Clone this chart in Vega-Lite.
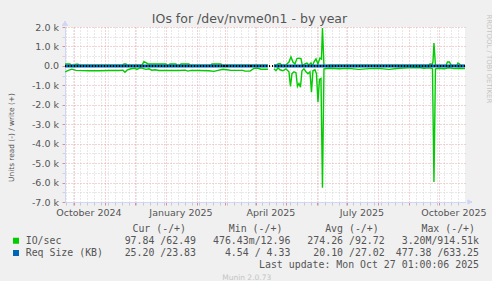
{
  "$schema": "https://vega.github.io/schema/vega-lite/v6.json",
  "background": "#F0F0F0",
  "padding": {"left": 7, "top": 12, "right": 0, "bottom": 0},
  "title": {"text": "IOs for /dev/nvme0n1 - by year", "font": "DejaVu Sans", "fontSize": 12.5, "fontWeight": "normal", "color": "#555555", "anchor": "middle", "frame": "bounds", "offset": -11},
  "config": {
    "font": "DejaVu Sans",
    "view": {"stroke": null},
    "axis": {"labelFont": "DejaVu Sans", "titleFont": "DejaVu Sans"}
  },
  "spacing": 6.5,
  "datasets": {
    "io": [
      {"t":"2024-09-22T01:00","m":"IO/sec","dir":"read","seg":1,"v":-310},
      {"t":"2024-09-26T00:00","m":"IO/sec","dir":"read","seg":1,"v":-220},
      {"t":"2024-09-29T00:00","m":"IO/sec","dir":"read","seg":1,"v":-170},
      {"t":"2024-10-03T00:00","m":"IO/sec","dir":"read","seg":1,"v":-230},
      {"t":"2024-10-16T00:00","m":"IO/sec","dir":"read","seg":1,"v":-250},
      {"t":"2024-10-26T00:00","m":"IO/sec","dir":"read","seg":1,"v":-250},
      {"t":"2024-11-05T00:00","m":"IO/sec","dir":"read","seg":1,"v":-240},
      {"t":"2024-11-15T00:00","m":"IO/sec","dir":"read","seg":1,"v":-240},
      {"t":"2024-11-19T00:00","m":"IO/sec","dir":"read","seg":1,"v":-220},
      {"t":"2024-11-21T00:00","m":"IO/sec","dir":"read","seg":1,"v":-330},
      {"t":"2024-11-23T00:00","m":"IO/sec","dir":"read","seg":1,"v":-220},
      {"t":"2024-11-27T00:00","m":"IO/sec","dir":"read","seg":1,"v":-150},
      {"t":"2024-12-01T00:00","m":"IO/sec","dir":"read","seg":1,"v":-120},
      {"t":"2024-12-03T00:00","m":"IO/sec","dir":"read","seg":1,"v":-180},
      {"t":"2024-12-06T00:00","m":"IO/sec","dir":"read","seg":1,"v":-100},
      {"t":"2024-12-09T00:00","m":"IO/sec","dir":"read","seg":1,"v":-130},
      {"t":"2024-12-12T00:00","m":"IO/sec","dir":"read","seg":1,"v":-180},
      {"t":"2024-12-15T00:00","m":"IO/sec","dir":"read","seg":1,"v":-150},
      {"t":"2024-12-18T00:00","m":"IO/sec","dir":"read","seg":1,"v":-220},
      {"t":"2024-12-21T00:00","m":"IO/sec","dir":"read","seg":1,"v":-200},
      {"t":"2024-12-25T00:00","m":"IO/sec","dir":"read","seg":1,"v":-240},
      {"t":"2025-01-04T00:00","m":"IO/sec","dir":"read","seg":1,"v":-240},
      {"t":"2025-01-14T00:00","m":"IO/sec","dir":"read","seg":1,"v":-240},
      {"t":"2025-01-20T00:00","m":"IO/sec","dir":"read","seg":1,"v":-220},
      {"t":"2025-01-23T00:00","m":"IO/sec","dir":"read","seg":1,"v":-270},
      {"t":"2025-01-26T00:00","m":"IO/sec","dir":"read","seg":1,"v":-230},
      {"t":"2025-02-03T00:00","m":"IO/sec","dir":"read","seg":1,"v":-240},
      {"t":"2025-02-13T00:00","m":"IO/sec","dir":"read","seg":1,"v":-250},
      {"t":"2025-02-18T00:00","m":"IO/sec","dir":"read","seg":1,"v":-280},
      {"t":"2025-02-21T00:00","m":"IO/sec","dir":"read","seg":1,"v":-240},
      {"t":"2025-02-27T00:00","m":"IO/sec","dir":"read","seg":1,"v":-170},
      {"t":"2025-03-03T00:00","m":"IO/sec","dir":"read","seg":1,"v":-200},
      {"t":"2025-03-07T00:00","m":"IO/sec","dir":"read","seg":1,"v":-230},
      {"t":"2025-03-19T00:00","m":"IO/sec","dir":"read","seg":1,"v":-230},
      {"t":"2025-03-21T00:00","m":"IO/sec","dir":"read","seg":1,"v":-270},
      {"t":"2025-03-26T00:00","m":"IO/sec","dir":"read","seg":1,"v":-270},
      {"t":"2025-03-30T00:00","m":"IO/sec","dir":"read","seg":1,"v":-130},
      {"t":"2025-04-03T00:00","m":"IO/sec","dir":"read","seg":1,"v":-120},
      {"t":"2025-04-06T00:00","m":"IO/sec","dir":"read","seg":1,"v":-170},
      {"t":"2025-04-13T00:00","m":"IO/sec","dir":"read","seg":1,"v":-170},
      {"t":"2025-04-19T00:00","m":"IO/sec","dir":"read","seg":2,"v":-150},
      {"t":"2025-04-21T00:00","m":"IO/sec","dir":"read","seg":2,"v":-250},
      {"t":"2025-04-23T00:00","m":"IO/sec","dir":"read","seg":2,"v":-100},
      {"t":"2025-04-25T00:00","m":"IO/sec","dir":"read","seg":2,"v":-200},
      {"t":"2025-04-28T00:00","m":"IO/sec","dir":"read","seg":2,"v":-250},
      {"t":"2025-05-01T00:00","m":"IO/sec","dir":"read","seg":2,"v":-150},
      {"t":"2025-05-04T00:00","m":"IO/sec","dir":"read","seg":2,"v":-300},
      {"t":"2025-05-05T12:00","m":"IO/sec","dir":"read","seg":2,"v":-1050},
      {"t":"2025-05-07T00:00","m":"IO/sec","dir":"read","seg":2,"v":-400},
      {"t":"2025-05-09T00:00","m":"IO/sec","dir":"read","seg":2,"v":-300},
      {"t":"2025-05-11T00:00","m":"IO/sec","dir":"read","seg":2,"v":-350},
      {"t":"2025-05-12T12:00","m":"IO/sec","dir":"read","seg":2,"v":-1050},
      {"t":"2025-05-14T00:00","m":"IO/sec","dir":"read","seg":2,"v":-900},
      {"t":"2025-05-15T12:00","m":"IO/sec","dir":"read","seg":2,"v":-1100},
      {"t":"2025-05-17T00:00","m":"IO/sec","dir":"read","seg":2,"v":-250},
      {"t":"2025-05-19T00:00","m":"IO/sec","dir":"read","seg":2,"v":-150},
      {"t":"2025-05-21T00:00","m":"IO/sec","dir":"read","seg":2,"v":-300},
      {"t":"2025-05-23T00:00","m":"IO/sec","dir":"read","seg":2,"v":-400},
      {"t":"2025-05-25T00:00","m":"IO/sec","dir":"read","seg":2,"v":-300},
      {"t":"2025-05-26T12:00","m":"IO/sec","dir":"read","seg":2,"v":-1350},
      {"t":"2025-05-28T00:00","m":"IO/sec","dir":"read","seg":2,"v":-250},
      {"t":"2025-05-30T00:00","m":"IO/sec","dir":"read","seg":2,"v":-200},
      {"t":"2025-05-31T12:00","m":"IO/sec","dir":"read","seg":2,"v":-400},
      {"t":"2025-06-02T00:00","m":"IO/sec","dir":"read","seg":2,"v":-1850},
      {"t":"2025-06-03T12:00","m":"IO/sec","dir":"read","seg":2,"v":-700},
      {"t":"2025-06-05T00:00","m":"IO/sec","dir":"read","seg":2,"v":-650},
      {"t":"2025-06-06T12:00","m":"IO/sec","dir":"read","seg":2,"v":-6270},
      {"t":"2025-06-08T00:00","m":"IO/sec","dir":"read","seg":2,"v":-150},
      {"t":"2025-06-13T00:00","m":"IO/sec","dir":"read","seg":2,"v":-120},
      {"t":"2025-06-23T00:00","m":"IO/sec","dir":"read","seg":2,"v":-150},
      {"t":"2025-07-03T00:00","m":"IO/sec","dir":"read","seg":2,"v":-130},
      {"t":"2025-07-13T00:00","m":"IO/sec","dir":"read","seg":2,"v":-180},
      {"t":"2025-07-23T00:00","m":"IO/sec","dir":"read","seg":2,"v":-140},
      {"t":"2025-08-02T00:00","m":"IO/sec","dir":"read","seg":2,"v":-130},
      {"t":"2025-08-12T00:00","m":"IO/sec","dir":"read","seg":2,"v":-180},
      {"t":"2025-08-22T00:00","m":"IO/sec","dir":"read","seg":2,"v":-120},
      {"t":"2025-09-01T00:00","m":"IO/sec","dir":"read","seg":2,"v":-100},
      {"t":"2025-09-11T00:00","m":"IO/sec","dir":"read","seg":2,"v":-80},
      {"t":"2025-09-16T00:00","m":"IO/sec","dir":"read","seg":2,"v":-120},
      {"t":"2025-09-21T00:00","m":"IO/sec","dir":"read","seg":2,"v":-100},
      {"t":"2025-09-24T12:00","m":"IO/sec","dir":"read","seg":2,"v":-140},
      {"t":"2025-09-26T00:00","m":"IO/sec","dir":"read","seg":2,"v":-5970},
      {"t":"2025-09-27T12:00","m":"IO/sec","dir":"read","seg":2,"v":-150},
      {"t":"2025-10-01T00:00","m":"IO/sec","dir":"read","seg":2,"v":-120},
      {"t":"2025-10-06T00:00","m":"IO/sec","dir":"read","seg":2,"v":-150},
      {"t":"2025-10-11T00:00","m":"IO/sec","dir":"read","seg":2,"v":-100},
      {"t":"2025-10-16T00:00","m":"IO/sec","dir":"read","seg":2,"v":-140},
      {"t":"2025-10-21T00:00","m":"IO/sec","dir":"read","seg":2,"v":-120},
      {"t":"2025-10-27T01:00","m":"IO/sec","dir":"read","seg":2,"v":-140},

      {"t":"2024-09-22T01:00","m":"IO/sec","dir":"write","seg":1,"v":100},
      {"t":"2024-09-27T00:00","m":"IO/sec","dir":"write","seg":1,"v":100},
      {"t":"2024-09-28T00:00","m":"IO/sec","dir":"write","seg":1,"v":40},
      {"t":"2024-10-02T00:00","m":"IO/sec","dir":"write","seg":1,"v":40},
      {"t":"2024-10-03T00:00","m":"IO/sec","dir":"write","seg":1,"v":90},
      {"t":"2024-10-05T00:00","m":"IO/sec","dir":"write","seg":1,"v":90},
      {"t":"2024-10-06T00:00","m":"IO/sec","dir":"write","seg":1,"v":40},
      {"t":"2024-11-19T00:00","m":"IO/sec","dir":"write","seg":1,"v":40},
      {"t":"2024-11-20T00:00","m":"IO/sec","dir":"write","seg":1,"v":100},
      {"t":"2024-11-22T00:00","m":"IO/sec","dir":"write","seg":1,"v":100},
      {"t":"2024-11-23T00:00","m":"IO/sec","dir":"write","seg":1,"v":40},
      {"t":"2024-12-08T00:00","m":"IO/sec","dir":"write","seg":1,"v":40},
      {"t":"2024-12-10T00:00","m":"IO/sec","dir":"write","seg":1,"v":220},
      {"t":"2024-12-12T00:00","m":"IO/sec","dir":"write","seg":1,"v":170},
      {"t":"2024-12-14T00:00","m":"IO/sec","dir":"write","seg":1,"v":100},
      {"t":"2025-01-01T00:00","m":"IO/sec","dir":"write","seg":1,"v":100},
      {"t":"2025-01-02T00:00","m":"IO/sec","dir":"write","seg":1,"v":40},
      {"t":"2025-01-04T00:00","m":"IO/sec","dir":"write","seg":1,"v":40},
      {"t":"2025-01-05T00:00","m":"IO/sec","dir":"write","seg":1,"v":100},
      {"t":"2025-01-11T00:00","m":"IO/sec","dir":"write","seg":1,"v":100},
      {"t":"2025-01-12T00:00","m":"IO/sec","dir":"write","seg":1,"v":40},
      {"t":"2025-01-15T00:00","m":"IO/sec","dir":"write","seg":1,"v":40},
      {"t":"2025-01-16T00:00","m":"IO/sec","dir":"write","seg":1,"v":100},
      {"t":"2025-01-24T00:00","m":"IO/sec","dir":"write","seg":1,"v":100},
      {"t":"2025-01-25T00:00","m":"IO/sec","dir":"write","seg":1,"v":40},
      {"t":"2025-02-15T00:00","m":"IO/sec","dir":"write","seg":1,"v":40},
      {"t":"2025-02-16T00:00","m":"IO/sec","dir":"write","seg":1,"v":100},
      {"t":"2025-02-25T00:00","m":"IO/sec","dir":"write","seg":1,"v":100},
      {"t":"2025-02-26T00:00","m":"IO/sec","dir":"write","seg":1,"v":40},
      {"t":"2025-04-13T00:00","m":"IO/sec","dir":"write","seg":1,"v":40},
      {"t":"2025-04-19T00:00","m":"IO/sec","dir":"write","seg":2,"v":50},
      {"t":"2025-04-21T00:00","m":"IO/sec","dir":"write","seg":2,"v":20},
      {"t":"2025-04-23T00:00","m":"IO/sec","dir":"write","seg":2,"v":100},
      {"t":"2025-04-25T00:00","m":"IO/sec","dir":"write","seg":2,"v":120},
      {"t":"2025-04-27T00:00","m":"IO/sec","dir":"write","seg":2,"v":30},
      {"t":"2025-05-01T00:00","m":"IO/sec","dir":"write","seg":2,"v":50},
      {"t":"2025-05-04T00:00","m":"IO/sec","dir":"write","seg":2,"v":200},
      {"t":"2025-05-06T00:00","m":"IO/sec","dir":"write","seg":2,"v":460},
      {"t":"2025-05-08T00:00","m":"IO/sec","dir":"write","seg":2,"v":200},
      {"t":"2025-05-10T00:00","m":"IO/sec","dir":"write","seg":2,"v":100},
      {"t":"2025-05-12T00:00","m":"IO/sec","dir":"write","seg":2,"v":380},
      {"t":"2025-05-14T00:00","m":"IO/sec","dir":"write","seg":2,"v":400},
      {"t":"2025-05-16T00:00","m":"IO/sec","dir":"write","seg":2,"v":380},
      {"t":"2025-05-17T12:00","m":"IO/sec","dir":"write","seg":2,"v":0},
      {"t":"2025-05-20T00:00","m":"IO/sec","dir":"write","seg":2,"v":100},
      {"t":"2025-05-22T00:00","m":"IO/sec","dir":"write","seg":2,"v":150},
      {"t":"2025-05-24T00:00","m":"IO/sec","dir":"write","seg":2,"v":50},
      {"t":"2025-05-26T00:00","m":"IO/sec","dir":"write","seg":2,"v":150},
      {"t":"2025-05-27T12:00","m":"IO/sec","dir":"write","seg":2,"v":0},
      {"t":"2025-05-29T00:00","m":"IO/sec","dir":"write","seg":2,"v":200},
      {"t":"2025-05-31T00:00","m":"IO/sec","dir":"write","seg":2,"v":360},
      {"t":"2025-06-02T00:00","m":"IO/sec","dir":"write","seg":2,"v":100},
      {"t":"2025-06-04T00:00","m":"IO/sec","dir":"write","seg":2,"v":400},
      {"t":"2025-06-05T12:00","m":"IO/sec","dir":"write","seg":2,"v":350},
      {"t":"2025-06-06T12:00","m":"IO/sec","dir":"write","seg":2,"v":1950},
      {"t":"2025-06-08T00:00","m":"IO/sec","dir":"write","seg":2,"v":0},
      {"t":"2025-06-13T00:00","m":"IO/sec","dir":"write","seg":2,"v":30},
      {"t":"2025-07-13T00:00","m":"IO/sec","dir":"write","seg":2,"v":30},
      {"t":"2025-09-01T00:00","m":"IO/sec","dir":"write","seg":2,"v":40},
      {"t":"2025-09-21T00:00","m":"IO/sec","dir":"write","seg":2,"v":40},
      {"t":"2025-09-22T00:00","m":"IO/sec","dir":"write","seg":2,"v":100},
      {"t":"2025-09-23T00:00","m":"IO/sec","dir":"write","seg":2,"v":100},
      {"t":"2025-09-24T00:00","m":"IO/sec","dir":"write","seg":2,"v":20},
      {"t":"2025-09-25T00:00","m":"IO/sec","dir":"write","seg":2,"v":200},
      {"t":"2025-09-26T00:00","m":"IO/sec","dir":"write","seg":2,"v":1180},
      {"t":"2025-09-27T12:00","m":"IO/sec","dir":"write","seg":2,"v":20},
      {"t":"2025-10-08T00:00","m":"IO/sec","dir":"write","seg":2,"v":20},
      {"t":"2025-10-09T12:00","m":"IO/sec","dir":"write","seg":2,"v":200},
      {"t":"2025-10-11T12:00","m":"IO/sec","dir":"write","seg":2,"v":200},
      {"t":"2025-10-13T00:00","m":"IO/sec","dir":"write","seg":2,"v":40},
      {"t":"2025-10-19T00:00","m":"IO/sec","dir":"write","seg":2,"v":20},
      {"t":"2025-10-20T00:00","m":"IO/sec","dir":"write","seg":2,"v":150},
      {"t":"2025-10-21T12:00","m":"IO/sec","dir":"write","seg":2,"v":100},
      {"t":"2025-10-22T12:00","m":"IO/sec","dir":"write","seg":2,"v":20},
      {"t":"2025-10-27T01:00","m":"IO/sec","dir":"write","seg":2,"v":20},

      {"t":"2024-09-22T01:00","m":"Req Size (KB)","dir":"write","seg":1,"v":24},
      {"t":"2025-04-13T00:00","m":"Req Size (KB)","dir":"write","seg":1,"v":24},
      {"t":"2025-04-19T00:00","m":"Req Size (KB)","dir":"write","seg":2,"v":24},
      {"t":"2025-10-27T01:00","m":"Req Size (KB)","dir":"write","seg":2,"v":24},
      {"t":"2024-09-22T01:00","m":"Req Size (KB)","dir":"read","seg":1,"v":-25},
      {"t":"2025-04-13T00:00","m":"Req Size (KB)","dir":"read","seg":1,"v":-25},
      {"t":"2025-04-19T00:00","m":"Req Size (KB)","dir":"read","seg":2,"v":-25},
      {"t":"2025-10-27T01:00","m":"Req Size (KB)","dir":"read","seg":2,"v":-25}
    ],
    "leg": [
      {"row":"h","col":"cur","kind":"head","text":"Cur (-/+)"},
      {"row":"h","col":"min","kind":"head","text":"Min (-/+)"},
      {"row":"h","col":"avg","kind":"head","text":"Avg (-/+)"},
      {"row":"h","col":"max","kind":"head","text":"Max (-/+)"},
      {"row":"r1","col":"lab","kind":"lab","m":"IO/sec","text":"IO/sec"},
      {"row":"r2","col":"lab","kind":"lab","m":"Req Size (KB)","text":"Req Size (KB)"},
      {"row":"r1","col":"cur","kind":"val","text":"97.84 /62.49"},
      {"row":"r1","col":"min","kind":"val","text":"476.43m/12.96"},
      {"row":"r1","col":"avg","kind":"val","text":"274.26 /92.72"},
      {"row":"r1","col":"max","kind":"val","text":"3.20M/914.51k"},
      {"row":"r2","col":"cur","kind":"val","text":"25.20 /23.83"},
      {"row":"r2","col":"min","kind":"val","text":"4.54 / 4.33"},
      {"row":"r2","col":"avg","kind":"val","text":"20.10 /27.02"},
      {"row":"r2","col":"max","kind":"val","text":"477.38 /633.25"},
      {"row":"lu","col":"max","kind":"val","text":"Last update: Mon Oct 27 01:00:06 2025"},
      {"row":"mu","col":"credit","kind":"credit","text":"Munin 2.0.73"}
    ]
  },
  "vconcat": [
    {
      "width": 400,
      "height": 175,
      "view": {"fill": "#FFFFFF", "stroke": null},
      "data": {"name": "io"},
      "layer": [
        {
          "transform": [{"filter": "datum.m == 'IO/sec'"}],
          "mark": {"type": "line", "strokeWidth": 1.4, "clip": true},
          "encoding": {
            "x": {
              "field": "t", "type": "temporal",
              "scale": {"domain": [{"year":2024,"month":9,"date":22,"hours":1},{"year":2025,"month":10,"date":27,"hours":1}]},
              "axis": {
                "orient": "bottom",
                "title": null,
                "values": [
                  {"year":2024,"month":9,"date":23},{"year":2024,"month":9,"date":30},
                  {"year":2024,"month":10,"date":1},
                  {"year":2024,"month":10,"date":7},{"year":2024,"month":10,"date":14},{"year":2024,"month":10,"date":21},{"year":2024,"month":10,"date":28},
                  {"year":2024,"month":11,"date":1},
                  {"year":2024,"month":11,"date":4},{"year":2024,"month":11,"date":11},{"year":2024,"month":11,"date":18},{"year":2024,"month":11,"date":25},
                  {"year":2024,"month":12,"date":1},
                  {"year":2024,"month":12,"date":2},{"year":2024,"month":12,"date":9},{"year":2024,"month":12,"date":16},{"year":2024,"month":12,"date":23},{"year":2024,"month":12,"date":30},
                  {"year":2025,"month":1,"date":1},
                  {"year":2025,"month":1,"date":6},{"year":2025,"month":1,"date":13},{"year":2025,"month":1,"date":20},{"year":2025,"month":1,"date":27},
                  {"year":2025,"month":2,"date":1},
                  {"year":2025,"month":2,"date":3},{"year":2025,"month":2,"date":10},{"year":2025,"month":2,"date":17},{"year":2025,"month":2,"date":24},
                  {"year":2025,"month":3,"date":1},
                  {"year":2025,"month":3,"date":3},{"year":2025,"month":3,"date":10},{"year":2025,"month":3,"date":17},{"year":2025,"month":3,"date":24},{"year":2025,"month":3,"date":31},
                  {"year":2025,"month":4,"date":1},
                  {"year":2025,"month":4,"date":7},{"year":2025,"month":4,"date":14},{"year":2025,"month":4,"date":21},{"year":2025,"month":4,"date":28},
                  {"year":2025,"month":5,"date":1},
                  {"year":2025,"month":5,"date":5},{"year":2025,"month":5,"date":12},{"year":2025,"month":5,"date":19},{"year":2025,"month":5,"date":26},
                  {"year":2025,"month":6,"date":1},
                  {"year":2025,"month":6,"date":2},{"year":2025,"month":6,"date":9},{"year":2025,"month":6,"date":16},{"year":2025,"month":6,"date":23},{"year":2025,"month":6,"date":30},
                  {"year":2025,"month":7,"date":1},
                  {"year":2025,"month":7,"date":7},{"year":2025,"month":7,"date":14},{"year":2025,"month":7,"date":21},{"year":2025,"month":7,"date":28},
                  {"year":2025,"month":8,"date":1},
                  {"year":2025,"month":8,"date":4},{"year":2025,"month":8,"date":11},{"year":2025,"month":8,"date":18},{"year":2025,"month":8,"date":25},
                  {"year":2025,"month":9,"date":1},
                  {"year":2025,"month":9,"date":8},{"year":2025,"month":9,"date":15},{"year":2025,"month":9,"date":22},{"year":2025,"month":9,"date":29},
                  {"year":2025,"month":10,"date":1},
                  {"year":2025,"month":10,"date":6},{"year":2025,"month":10,"date":13},{"year":2025,"month":10,"date":20}
                ],
                "labels": false,
                "grid": true,
                "gridDash": [1, 2],
                "gridColor": {"condition": {"test": "date(datum.value) == 1", "value": "#E6A6A6"}, "value": "#D2D2D2"},
                "tickSize": 3,
                "tickColor": {"condition": {"test": "date(datum.value) == 1", "value": "#E08C8C"}, "value": "#C8C8C8"},
                "domainColor": "#CFD6F8",
                "minExtent": 0,
                "maxExtent": 3
              }
            },
            "y": {
              "field": "v", "type": "quantitative",
              "scale": {"domain": [-7000, 2000], "nice": false, "zero": false},
              "axis": {
                "orient": "left",
                "values": [-7000,-6500,-6000,-5500,-5000,-4500,-4000,-3500,-3000,-2500,-2000,-1500,-1000,-500,0,500,1000,1500,2000],
                "title": "Units read (-) / write (+)",
                "titleFontSize": 7.4,
                "titleFontWeight": "normal",
                "titleColor": "#555555",
                "titleAngle": 270,
                "titleX": -50,
                "titleY": 110,
                "titleAlign": "center",
                "titleBaseline": "bottom",
                "labelExpr": "datum.value % 1000 == 0 ? (datum.value == 0 ? '0.0' : (datum.value < 0 ? '-' : '') + format(abs(datum.value) / 1000, '.1f') + ' k') : ''",
                "labelFontSize": 9.5,
                "labelColor": "#555555",
                "labelPadding": 3.5,
                "labelOverlap": false,
                "grid": true,
                "gridDash": [1, 2],
                "gridColor": {"condition": {"test": "datum.value % 1000 == 0", "value": "#E6A6A6"}, "value": "#D2D2D2"},
                "tickSize": 3,
                "tickColor": {"condition": {"test": "datum.value % 1000 == 0", "value": "#E08C8C"}, "value": "#D2D2D2"},
                "domainColor": "#CFD6F8"
              }
            },
            "color": {"field": "m", "type": "nominal", "scale": {"domain": ["IO/sec", "Req Size (KB)"], "range": ["#00CC00", "#0066B3"]}, "legend": null},
            "detail": [{"field": "dir"}, {"field": "seg"}]
          }
        },
        {
          "transform": [{"filter": "datum.m == 'Req Size (KB)'"}],
          "mark": {"type": "line", "strokeWidth": 2},
          "encoding": {
            "x": {
              "field": "t", "type": "temporal",
              "axis": {
                "orient": "bottom",
                "title": null,
                "values": [
                  {"year":2024,"month":10,"date":15,"hours":12},{"year":2025,"month":1,"date":15,"hours":12},
                  {"year":2025,"month":4,"date":15,"hours":12},{"year":2025,"month":7,"date":15,"hours":12},
                  {"year":2025,"month":10,"date":15,"hours":12}
                ],
                "format": "%B %Y",
                "labelFontSize": 9.5,
                "labelColor": "#555555",
                "labelPadding": 5,
                "labelOverlap": false,
                "labelFlush": false,
                "labelBound": false,
                "grid": false,
                "ticks": false,
                "domain": false
              }
            },
            "y": {
              "field": "v", "type": "quantitative",
              "axis": {
                "orient": "right",
                "title": "RRDTOOL / TOBI OETIKER",
                "titleFont": "DejaVu Sans",
                "titleFontSize": 6.9,
                "titleFontWeight": "normal",
                "titleColor": "#C4C4C4",
                "titleAngle": 90,
                "titleX": 20,
                "titleY": -13,
                "titleAlign": "left",
                "titleBaseline": "bottom",
                "labels": false,
                "ticks": false,
                "domain": false,
                "grid": false,
                "minExtent": 0,
                "maxExtent": 0
              }
            },
            "color": {"field": "m", "type": "nominal", "legend": null},
            "detail": [{"field": "dir"}, {"field": "seg"}]
          }
        },
        {
          "mark": {"type": "rule", "color": "#000000", "strokeWidth": 1, "strokeDash": [1, 2], "opacity": 0.7},
          "encoding": {
            "y": {"datum": 0, "type": "quantitative", "axis": null}
          }
        },
        {
          "mark": {"type": "point", "shape": "triangle-up", "filled": true, "size": 22, "color": "#CFD6F8", "opacity": 1},
          "encoding": {
            "x": {"datum": {"year":2024,"month":9,"date":22,"hours":1}, "type": "temporal", "axis": null},
            "y": {"datum": 2200, "type": "quantitative", "axis": null}
          }
        },
        {
          "mark": {"type": "point", "shape": "triangle-right", "filled": true, "size": 22, "color": "#CFD6F8", "opacity": 1},
          "encoding": {
            "x": {"datum": {"year":2025,"month":11,"date":1}, "type": "temporal", "axis": null},
            "y": {"datum": -7000, "type": "quantitative", "axis": null}
          }
        }
      ],
      "resolve": {"axis": {"y": "independent", "x": "independent"}}
    },
    {
      "width": 400,
      "height": 49,
      "data": {"name": "leg"},
      "encoding": {
        "y": {"field": "row", "type": "nominal", "scale": {"type": "point", "domain": ["h", "r1", "r2", "lu", "mu"], "padding": 0}, "axis": null}
      },
      "layer": [
        {
          "transform": [{"filter": "datum.kind == 'lab'"}],
          "mark": {"type": "point", "shape": "square", "filled": true, "size": 36, "opacity": 1},
          "encoding": {
            "x": {"field": "col", "type": "nominal", "scale": {"type": "point", "domain": ["lab"], "range": [-98, 0], "padding": 0}, "axis": null},
            "color": {"field": "m", "type": "nominal", "scale": {"domain": ["IO/sec", "Req Size (KB)"], "range": ["#00CC00", "#0066B3"]}, "legend": null}
          }
        },
        {
          "transform": [{"filter": "datum.kind == 'lab'"}],
          "mark": {"type": "text", "align": "left", "baseline": "middle", "font": "DejaVu Sans Mono", "fontSize": 9.9, "color": "#555555"},
          "encoding": {
            "x": {"field": "col", "type": "nominal", "scale": {"type": "point", "domain": ["lab"], "range": [-78.6, 0], "padding": 0}, "axis": null},
            "text": {"field": "text"}
          }
        },
        {
          "transform": [{"filter": "datum.kind == 'head'"}],
          "mark": {"type": "text", "align": "right", "baseline": "middle", "font": "DejaVu Sans Mono", "fontSize": 9.9, "color": "#555555"},
          "encoding": {
            "x": {"field": "col", "type": "nominal", "scale": {"type": "point", "domain": ["cur", "min", "avg", "max"], "range": [121, 410], "padding": 0}, "axis": null},
            "text": {"field": "text"}
          }
        },
        {
          "transform": [{"filter": "datum.kind == 'val'"}],
          "mark": {"type": "text", "align": "right", "baseline": "middle", "font": "DejaVu Sans Mono", "fontSize": 9.9, "color": "#555555"},
          "encoding": {
            "x": {"field": "col", "type": "nominal", "scale": {"type": "point", "domain": ["cur", "min", "avg", "max"], "range": [131, 414], "padding": 0}, "axis": null},
            "text": {"field": "text"}
          }
        },
        {
          "transform": [{"filter": "datum.kind == 'credit'"}],
          "mark": {"type": "text", "align": "center", "baseline": "middle", "font": "DejaVu Sans", "fontSize": 7.5, "color": "#C4C4C4"},
          "encoding": {
            "x": {"field": "col", "type": "nominal", "scale": {"type": "point", "domain": ["credit"], "range": [0, 363.4], "padding": 0}, "axis": null},
            "text": {"field": "text"}
          }
        }
      ],
      "resolve": {"scale": {"x": "independent"}}
    }
  ]
}
